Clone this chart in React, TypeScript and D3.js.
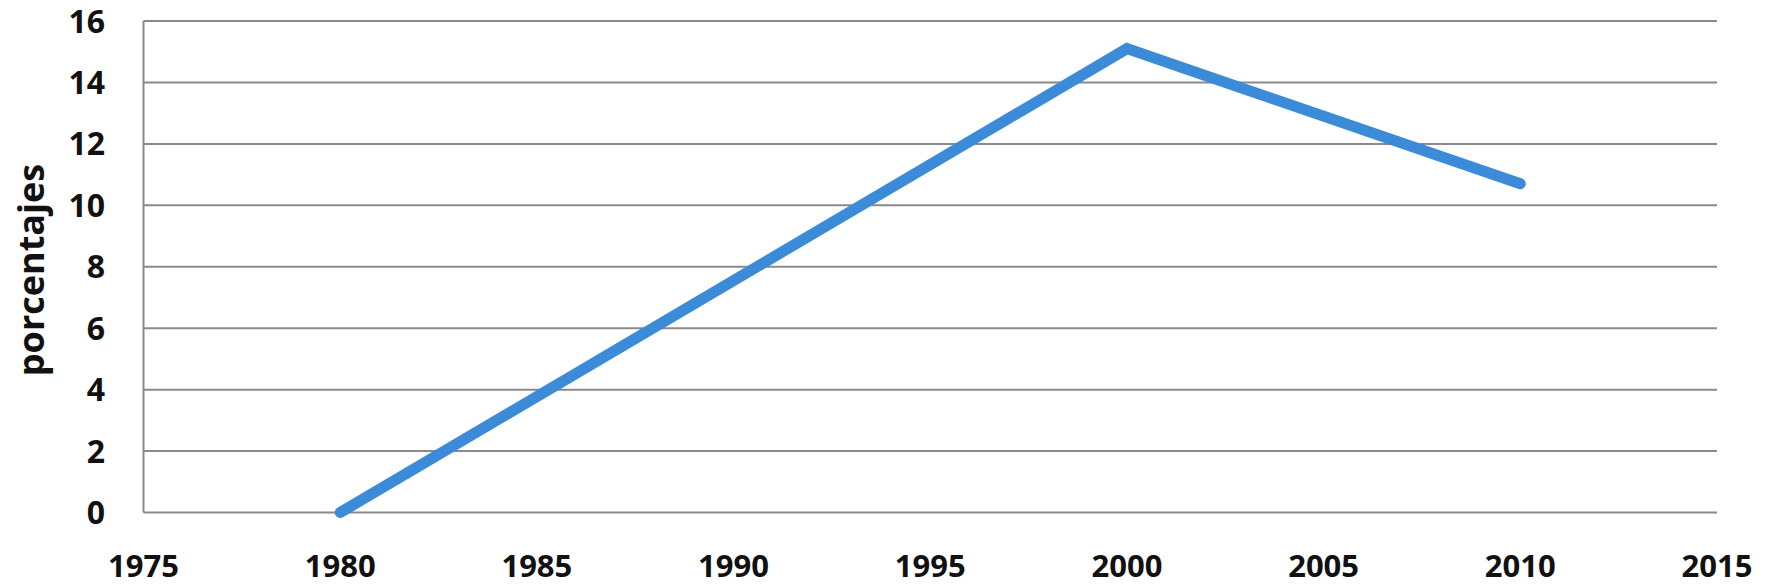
import React from "react";
import * as d3 from "d3";

const years = [1980, 2000, 2010];
const values = [0, 15.1, 10.7];
const xTicks = [1975, 1980, 1985, 1990, 1995, 2000, 2005, 2010, 2015];
const yTicks = [0, 2, 4, 6, 8, 10, 12, 14, 16];
const yLabel = "porcentajes";

const W = 1772;
const H = 588;
const FONT = "'Open Sans', 'Liberation Sans', sans-serif";

export default function App() {
  const x = d3.scaleLinear().domain([1975, 2015]).range([143.5, 1717]);
  const y = d3.scaleLinear().domain([0, 16]).range([512.5, 21]);
  const pts = years.map((yr, i) => [yr, values[i]] as [number, number]);
  const line = d3
    .line<[number, number]>()
    .x((d) => x(d[0]))
    .y((d) => y(d[1]));

  return (
    <svg
      width={W}
      height={H}
      style={{ position: "absolute", left: 0, top: 0, background: "#fff" }}
    >
      <rect width={W} height={H} fill="#fff" />
      {yTicks.map((t) => (
        <line
          key={"g" + t}
          x1={x(1975)}
          x2={x(2015)}
          y1={y(t)}
          y2={y(t)}
          stroke="#8a8a8a"
          strokeWidth={2}
        />
      ))}
      <line
        x1={x(1975)}
        x2={x(1975)}
        y1={y(16)}
        y2={y(0)}
        stroke="#8a8a8a"
        strokeWidth={2}
      />
      {yTicks.map((t) => (
        <text
          key={"y" + t}
          x={105}
          y={y(t)}
          dy="0.36em"
          textAnchor="end"
          fontFamily={FONT}
          fontWeight={700}
          fontSize={32}
          fill="#111"
        >
          {t}
        </text>
      ))}
      {xTicks.map((t) => (
        <text
          key={"x" + t}
          x={x(t)}
          y={566}
          dy="0.36em"
          textAnchor="middle"
          fontFamily={FONT}
          fontWeight={700}
          fontSize={31}
          fill="#111"
        >
          {t}
        </text>
      ))}
      <text
        transform={`translate(31, 270) rotate(-90)`}
        dy="0.36em"
        textAnchor="middle"
        fontFamily={FONT}
        fontWeight={700}
        fontSize={36}
        fill="#111"
      >
        {yLabel}
      </text>
      <path
        d={line(pts) || ""}
        fill="none"
        stroke="#3b8bd9"
        strokeWidth={11}
        strokeLinecap="round"
        strokeLinejoin="miter"
      />
    </svg>
  );
}
